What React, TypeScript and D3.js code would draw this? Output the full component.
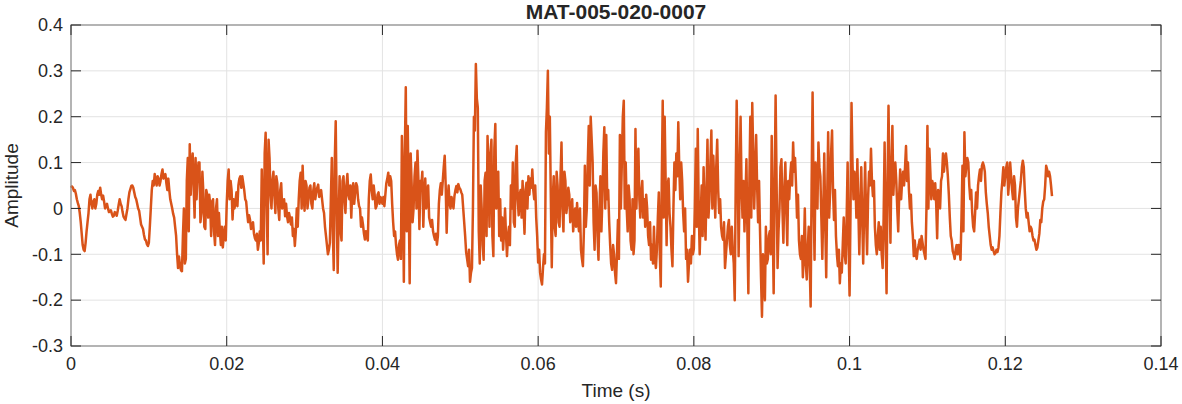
import React from "react";
import * as d3 from "d3";

const title = "MAT-005-020-0007";
const xLabel = "Time (s)";
const yLabel = "Amplitude";
const sampleInterval = 0.000125; // seconds between samples
const xTicks = [0, 0.02, 0.04, 0.06, 0.08, 0.1, 0.12, 0.14];
const yTicks = [-0.3, -0.2, -0.1, 0, 0.1, 0.2, 0.3, 0.4];

const amplitude = [
  0.045, 0.048, 0.045, 0.038, 0.04, 0.032, 0.02, 0.012, 0.005, -0.01, -0.03, -0.055, -0.08, -0.09, -0.093, -0.075, -0.05, -0.03, -0.01, 0.02,
  0.03, 0.01, 0.0, 0.015, 0.02, 0.0, 0.01, 0.03, 0.038, 0.03, 0.045, 0.03, 0.02, 0.028, 0.015, 0.0, 0.005, 0.01, 0.0, -0.008,
  -0.006, -0.004, -0.012, -0.018, -0.016, -0.008, -0.01, -0.016, -0.005, 0.008, 0.02, 0.01, 0.005, -0.008, -0.018, -0.022, -0.025, -0.012, 0.0, 0.02,
  0.035, 0.042, 0.049, 0.05, 0.045, 0.035, 0.025, 0.02, 0.01, 0.0, -0.005, -0.02, -0.035, -0.04, -0.045, -0.058, -0.068, -0.07, -0.078, -0.082,
  -0.075, -0.04, 0.0, 0.04, 0.06, 0.05, 0.075, 0.06, 0.05, 0.07, 0.065, 0.05, 0.06, 0.075, 0.085, 0.065, 0.07, 0.075, 0.055, 0.04,
  0.065, 0.04, 0.02, 0.01, 0.0, -0.012, -0.02, -0.04, -0.06, -0.1, -0.13, -0.105, -0.125, -0.135, -0.137, -0.06, 0.0, -0.12, -0.11, 0.06,
  0.11, -0.05, 0.14, 0.03, 0.09, 0.12, 0.05, -0.02, 0.11, 0.02, 0.07, 0.1, 0.1, -0.03, -0.01, 0.08, 0.035, -0.04, -0.045, 0.04,
  0.03, -0.02, 0.03, 0.01, -0.06, 0.015, 0.02, -0.05, -0.08, 0.0, 0.02, -0.06, -0.01, -0.05, -0.08, -0.04, -0.085, -0.06, -0.04, -0.07,
  0.01, 0.06, 0.085, 0.02, 0.06, 0.04, -0.024, 0.02, 0.0, 0.015, 0.035, 0.005, 0.05, 0.065, 0.07, 0.045, 0.07, 0.055, 0.04, 0.02,
  0.015, -0.01, -0.03, -0.015, -0.025, -0.045, -0.04, -0.03, -0.055, -0.065, -0.07, -0.055, -0.09, -0.075, -0.05, -0.07, 0.085, -0.02, -0.12, 0.12,
  0.165, 0.02, -0.1, 0.15, 0.11, 0.03, 0.0, 0.06, 0.08, 0.03, -0.01, 0.07, 0.055, 0.0, -0.025, 0.04, 0.055, 0.0, 0.005, 0.02,
  -0.017, 0.01, -0.017, -0.03, -0.01, -0.02, -0.035, -0.02, -0.06, -0.045, -0.082, -0.05, 0.0, -0.04, 0.02, 0.06, 0.078, 0.0, 0.093, 0.03,
  -0.005, 0.06, 0.05, 0.0, 0.02, 0.045, 0.05, 0.01, 0.0, 0.04, 0.055, 0.02, 0.035, 0.045, 0.052, 0.025, 0.035, 0.04, 0.02, 0.0,
  -0.01, -0.04, -0.06, -0.08, -0.1, -0.09, -0.075, 0.02, 0.11, -0.05, -0.134, 0.1, 0.19, 0.0, -0.14, -0.02, 0.07, -0.05, -0.07, 0.06,
  0.07, 0.02, -0.01, 0.05, 0.075, 0.03, 0.02, 0.05, -0.02, 0.04, 0.055, 0.01, 0.035, 0.055, 0.048, 0.02, 0.005, 0.0, -0.04, -0.02,
  -0.035, -0.055, -0.068, -0.05, -0.06, -0.07, 0.02, 0.06, 0.074, 0.04, 0.02, 0.05, 0.03, 0.0, 0.005, 0.03, 0.035, 0.01, 0.025, 0.02,
  0.01, 0.025, 0.005, 0.03, 0.055, 0.065, 0.078, 0.05, 0.07, 0.06, 0.01, -0.03, -0.06, -0.05, -0.08, -0.1, -0.112, -0.08, -0.07, -0.11,
  0.158, 0.05, -0.16, 0.12, 0.264, -0.05, 0.18, 0.02, -0.163, 0.12, 0.055, -0.03, 0.0, 0.07, 0.1, 0.0, 0.126, 0.06, -0.045, 0.06,
  0.05, 0.08, -0.04, 0.03, 0.065, 0.0, 0.03, 0.05, -0.02, -0.03, -0.04, -0.025, -0.05, -0.06, -0.068, -0.055, -0.079, -0.06, 0.01, 0.04,
  0.055, 0.03, 0.06, 0.09, 0.115, 0.05, -0.053, 0.02, 0.05, 0.01, 0.0, 0.025, 0.015, 0.0, 0.027, 0.04, 0.049, 0.035, 0.053, 0.045,
  0.042, 0.035, 0.03, 0.0, -0.03, -0.06, -0.095, -0.11, -0.126, -0.09, -0.16, -0.14, -0.13, 0.0, 0.2, 0.17, 0.315, 0.24, 0.22, -0.05,
  -0.12, 0.05, 0.0, -0.08, -0.112, 0.06, 0.078, -0.06, 0.158, 0.08, -0.04, 0.12, 0.15, -0.06, -0.104, 0.13, 0.184, 0.0, 0.04, 0.08,
  -0.06, 0.02, -0.07, -0.02, -0.09, -0.05, 0.0, -0.06, -0.104, -0.06, -0.04, -0.08, 0.05, 0.0, 0.1, -0.03, -0.04, 0.1, 0.136, 0.02,
  -0.015, 0.03, 0.04, -0.02, 0.06, 0.0, -0.055, 0.04, 0.056, 0.0, 0.07, 0.03, 0.065, 0.045, 0.085, 0.04, 0.02, 0.05, -0.02, -0.06,
  -0.118, -0.09, -0.14, -0.155, -0.166, -0.13, -0.1, -0.12, 0.166, 0.22, 0.3, 0.12, 0.2, 0.03, -0.128, 0.02, 0.07, -0.04, -0.06, 0.08,
  0.05, -0.03, -0.04, 0.07, 0.144, 0.0, -0.05, 0.08, 0.06, -0.01, 0.01, 0.045, 0.03, -0.03, -0.01, 0.02, -0.05, -0.02, 0.0, -0.04,
  0.012, -0.03, -0.05, 0.0, -0.09, -0.11, -0.126, -0.05, 0.093, -0.04, 0.0, 0.1, 0.18, 0.05, 0.2, 0.15, 0.1, -0.03, -0.09, 0.05,
  0.034, -0.06, -0.112, 0.0, 0.07, -0.05, 0.02, 0.12, 0.177, 0.0, 0.16, 0.02, 0.04, -0.03, -0.08, -0.12, -0.134, -0.08, -0.1, -0.14,
  -0.163, -0.1, -0.025, -0.11, 0.16, 0.0, 0.1, 0.2, 0.235, 0.0, 0.1, 0.0, -0.05, 0.05, 0.02, -0.07, -0.09, 0.02, -0.1, -0.07,
  0.173, 0.0, 0.09, 0.13, 0.02, -0.02, 0.035, 0.06, -0.02, 0.02, -0.04, 0.03, 0.0, -0.06, -0.08, -0.03, -0.112, -0.08, -0.12, -0.04,
  -0.11, -0.13, -0.09, -0.02, 0.035, -0.1, -0.17, 0.05, 0.235, -0.02, 0.2, 0.06, -0.08, 0.05, 0.065, -0.01, -0.04, -0.09, -0.126, 0.0,
  0.1, 0.04, 0.12, 0.07, 0.188, 0.09, 0.02, 0.1, 0.06, -0.01, -0.05, 0.0, -0.11, -0.09, -0.16, -0.12, -0.09, -0.12, -0.06, -0.1,
  -0.088, 0.0, 0.13, -0.04, 0.173, 0.0, -0.1, -0.02, 0.05, -0.06, 0.09, 0.0, -0.068, 0.04, 0.15, -0.02, 0.02, 0.1, 0.17, 0.0,
  0.115, 0.05, -0.02, 0.09, 0.15, 0.04, -0.01, 0.02, -0.04, -0.06, -0.068, -0.03, -0.13, -0.1, -0.07, -0.04, -0.025, -0.08, -0.1, -0.04,
  -0.09, -0.12, -0.2, 0.05, 0.235, 0.1, -0.104, 0.05, 0.2, 0.05, -0.02, 0.06, -0.05, 0.02, 0.107, -0.05, -0.185, 0.05, 0.2, -0.02,
  0.23, 0.12, 0.0, 0.08, 0.16, 0.05, -0.03, 0.06, -0.05, -0.15, -0.236, -0.1, -0.14, -0.2, -0.04, -0.12, -0.11, -0.06, -0.05, -0.1,
  0.158, -0.03, -0.185, 0.05, 0.246, 0.06, -0.13, -0.05, 0.0, 0.09, 0.107, 0.0, -0.075, 0.04, 0.1, 0.0, -0.08, 0.06, 0.02, 0.07,
  0.1, 0.05, 0.144, 0.08, 0.11, 0.05, -0.02, 0.03, -0.07, -0.1, -0.11, -0.06, -0.15, -0.1, 0.0, -0.12, -0.155, -0.09, -0.04, -0.12,
  -0.214, 0.05, 0.253, 0.03, -0.112, 0.1, 0.05, 0.0, 0.144, 0.09, 0.07, -0.02, -0.11, 0.0, 0.12, -0.03, -0.15, 0.02, 0.166, -0.02,
  0.035, 0.12, 0.17, 0.04, -0.025, 0.04, -0.06, -0.1, -0.126, -0.09, -0.163, -0.12, -0.14, -0.08, -0.02, -0.1, -0.12, -0.02, 0.1, -0.08,
  -0.19, 0.0, 0.23, 0.1, 0.02, 0.08, 0.06, -0.02, 0.107, 0.0, -0.1, 0.0, 0.09, -0.02, -0.12, 0.0, 0.1, -0.02, -0.1, 0.02,
  0.08, 0.05, 0.13, 0.06, 0.027, 0.06, -0.04, -0.08, -0.1, -0.06, -0.03, -0.09, -0.04, -0.1, -0.13, -0.02, 0.144, -0.05, -0.185, 0.05,
  0.224, 0.06, -0.075, 0.09, 0.18, 0.03, 0.08, 0.1, 0.06, 0.0, -0.05, 0.03, 0.085, 0.02, 0.06, 0.08, 0.05, 0.09, 0.136, 0.06,
  0.1, 0.04, 0.0, 0.03, -0.03, -0.06, -0.104, -0.07, -0.1, -0.11, -0.09, -0.08, -0.068, -0.09, -0.06, -0.075, -0.09, -0.1, -0.11, 0.0,
  0.18, 0.0, 0.13, 0.08, 0.02, 0.06, 0.05, 0.02, 0.055, 0.01, -0.065, 0.04, 0.03, 0.0, 0.06, 0.07, 0.12, 0.08, 0.107, 0.12,
  0.1, 0.07, 0.03, -0.02, -0.06, -0.07, -0.093, -0.1, -0.11, -0.09, -0.08, -0.1, -0.08, -0.09, -0.112, -0.02, 0.093, -0.05, 0.166, 0.07,
  0.093, 0.11, 0.1, 0.05, 0.02, 0.04, -0.01, -0.04, -0.05, -0.01, 0.035, 0.0, 0.05, 0.07, 0.085, 0.06, 0.093, 0.1, 0.093, 0.08,
  0.035, 0.01, -0.01, -0.04, -0.06, -0.08, -0.09, -0.085, -0.093, -0.1, -0.097, -0.09, -0.095, -0.085, -0.06, -0.01, 0.035, 0.06, 0.09, 0.05,
  0.07, 0.09, 0.1, 0.03, 0.06, 0.1, 0.07, 0.04, 0.02, 0.07, 0.05, -0.02, -0.04, 0.0, 0.02, 0.04, 0.06, 0.09, 0.104, 0.09,
  0.04, 0.0, -0.02, -0.01, -0.03, -0.05, -0.04, -0.045, -0.06, -0.07, -0.068, -0.08, -0.09, -0.085, -0.07, -0.055, -0.025, -0.03, 0.0, 0.015,
  0.02, 0.05, 0.093, 0.085, 0.07, 0.08, 0.07, 0.05, 0.027,
];

const W = 1182;
const H = 404;
const plot = { left: 71, top: 25, right: 1161, bottom: 346 };
const FONT = '"Liberation Sans", Arial, Helvetica, sans-serif';
const TEXT = "#262626";
const AXIS = "#8c8c8c";
const GRID = "#e3e3e3";
const LINE = "#D95319";
const TICK_LEN = 10;

export default function App() {
  const x = d3.scaleLinear().domain([0, 0.14]).range([plot.left, plot.right]);
  const y = d3.scaleLinear().domain([-0.3, 0.4]).range([plot.bottom, plot.top]);
  const pts = amplitude.map((v, i) => [i * sampleInterval, v] as [number, number]);
  const path = d3
    .line<[number, number]>()
    .x((d) => x(d[0]))
    .y((d) => y(d[1]))(pts);
  const fmtX = (v: number) => (v === 0 ? "0" : String(+v.toFixed(2)));
  const fmtY = (v: number) => (Math.abs(v) < 1e-9 ? "0" : String(+v.toFixed(1)));

  return (
    <svg
      width={W}
      height={H}
      style={{ position: "absolute", left: 0, top: 0, background: "#fff" }}
      fontFamily={FONT}
    >
      <rect x={0} y={0} width={W} height={H} fill="#fff" />
      {xTicks.map((t) => (
        <line key={"gx" + t} x1={x(t)} x2={x(t)} y1={plot.top} y2={plot.bottom} stroke={GRID} strokeWidth={1} />
      ))}
      {yTicks.map((t) => (
        <line key={"gy" + t} x1={plot.left} x2={plot.right} y1={y(t)} y2={y(t)} stroke={GRID} strokeWidth={1} />
      ))}
      <path d={path ?? ""} fill="none" stroke={LINE} strokeWidth={2.5} strokeLinejoin="round" />
      <rect
        x={plot.left}
        y={plot.top}
        width={plot.right - plot.left}
        height={plot.bottom - plot.top}
        fill="none"
        stroke={AXIS}
        strokeWidth={1.2}
      />
      {xTicks.map((t) => (
        <g key={"tx" + t}>
          <line x1={x(t)} x2={x(t)} y1={plot.bottom} y2={plot.bottom - TICK_LEN} stroke={TEXT} strokeWidth={1} />
          <line x1={x(t)} x2={x(t)} y1={plot.top} y2={plot.top + TICK_LEN} stroke={TEXT} strokeWidth={1} />
          <text x={x(t)} y={plot.bottom + 24} textAnchor="middle" fontSize={18} fill={TEXT}>
            {fmtX(t)}
          </text>
        </g>
      ))}
      {yTicks.map((t) => (
        <g key={"ty" + t}>
          <line x1={plot.left} x2={plot.left + TICK_LEN} y1={y(t)} y2={y(t)} stroke={TEXT} strokeWidth={1} />
          <line x1={plot.right} x2={plot.right - TICK_LEN} y1={y(t)} y2={y(t)} stroke={TEXT} strokeWidth={1} />
          <text x={plot.left - 8} y={y(t)} dy="0.35em" textAnchor="end" fontSize={18} fill={TEXT}>
            {fmtY(t)}
          </text>
        </g>
      ))}
      <text x={(plot.left + plot.right) / 2} y={18.5} textAnchor="middle" fontSize={21} fontWeight="bold" fill={TEXT}>
        {title}
      </text>
      <text x={(plot.left + plot.right) / 2} y={397} textAnchor="middle" fontSize={19} fill={TEXT}>
        {xLabel}
      </text>
      <text
        transform={`translate(18, ${(plot.top + plot.bottom) / 2}) rotate(-90)`}
        textAnchor="middle"
        fontSize={19}
        fill={TEXT}
      >
        {yLabel}
      </text>
    </svg>
  );
}
